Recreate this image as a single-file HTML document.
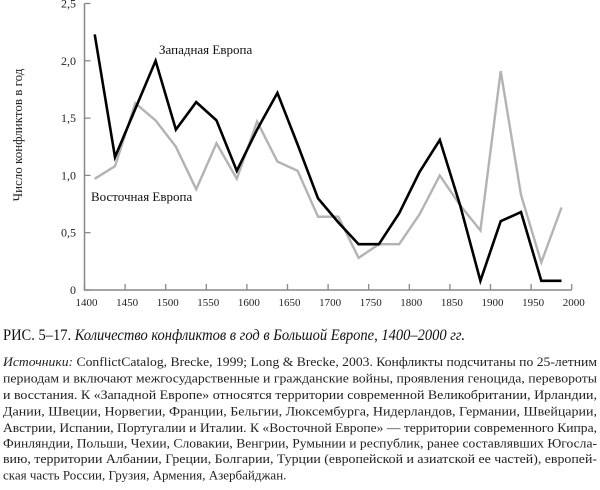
<!DOCTYPE html>
<html><head><meta charset="utf-8"><style>
html,body{margin:0;padding:0;background:#fff;}
svg{display:block;font-family:"Liberation Serif","DejaVu Serif",serif;}
</style></head><body>
<svg id="chart" width="600" height="490" viewBox="0 0 600 490">
<g id="plot"></g>
<text x="22" y="135" transform="rotate(-90 22 135)" text-anchor="middle" font-size="13" fill="#222">Число конфликтов в год</text>
<text x="159" y="54" font-size="13" fill="#111">Западная Европа</text>
<text x="91" y="201" font-size="13" fill="#111">Восточная Европа</text>
<g>
<text x="3" y="340" font-size="16" fill="#111" textLength="462" lengthAdjust="spacingAndGlyphs"><tspan>РИС. 5–17.</tspan> <tspan font-style="italic">Количество конфликтов в год в Большой Европе, 1400–2000 гг.</tspan></text>
</g>
<g font-size="13" fill="#222">
<text x="3" y="366" textLength="594" lengthAdjust="spacingAndGlyphs"><tspan font-style="italic">Источники:</tspan> ConflictCatalog, Brecke, 1999; Long &amp; Brecke, 2003. Конфликты подсчитаны по 25-летним</text>
<text x="3" y="382.5" textLength="594" lengthAdjust="spacingAndGlyphs">периодам и включают межгосударственные и гражданские войны, проявления геноцида, перевороты</text>
<text x="3" y="399" textLength="594" lengthAdjust="spacingAndGlyphs">и восстания. К «Западной Европе» относятся территории современной Великобритании, Ирландии,</text>
<text x="3" y="415.5" textLength="594" lengthAdjust="spacingAndGlyphs">Дании, Швеции, Норвегии, Франции, Бельгии, Люксембурга, Нидерландов, Германии, Швейцарии,</text>
<text x="3" y="432" textLength="594" lengthAdjust="spacingAndGlyphs">Австрии, Испании, Португалии и Италии. К «Восточной Европе» — территории современного Кипра,</text>
<text x="3" y="447.5" textLength="594" lengthAdjust="spacingAndGlyphs">Финляндии, Польши, Чехии, Словакии, Венгрии, Румынии и республик, ранее составлявших Югосла-</text>
<text x="3" y="463" textLength="594" lengthAdjust="spacingAndGlyphs">вию, территории Албании, Греции, Болгарии, Турции (европейской и азиатской ее частей), европей-</text>
<text x="3" y="479.5">ская часть России, Грузия, Армения, Азербайджан.</text>
</g>
</svg>
<script>
const periods = [1412.5,1437.5,1462.5,1487.5,1512.5,1537.5,1562.5,1587.5,1612.5,1637.5,1662.5,1687.5,1712.5,1737.5,1762.5,1787.5,1812.5,1837.5,1862.5,1887.5,1912.5,1937.5,1962.5,1987.5];
const westValues = [2.23,1.16,1.58,2.0,1.40,1.64,1.48,1.04,1.40,1.72,1.27,0.80,0.59,0.40,0.40,0.67,1.03,1.31,0.74,0.08,0.60,0.68,0.08,0.08];
const eastValues = [0.97,1.08,1.63,1.48,1.25,0.88,1.28,0.97,1.47,1.12,1.04,0.64,0.64,0.28,0.40,0.40,0.66,1.00,0.74,0.52,1.91,0.83,0.24,0.72];
const xTicks = [1400,1450,1500,1550,1600,1650,1700,1750,1800,1850,1900,1950,2000];
const yTicks = [0,0.5,1.0,1.5,2.0,2.5];
const yTickLabels = ["0","0,5","1,0","1,5","2,0","2,5"];

const NS = "http://www.w3.org/2000/svg";
const X0 = 84.5, XK = 40.6/50, Y0 = 290, YK = 114.6;
function xs(v){ return X0 + (v-1400)*XK; }
function ys(v){ return Y0 - v*YK; }
const plot = document.getElementById('plot');
function mk(tag, attrs){ const e=document.createElementNS(NS,tag); for(const k in attrs) e.setAttribute(k,attrs[k]); plot.appendChild(e); return e; }

const ax = mk('path',{d:`M${X0} ${ys(2.5)} V${Y0} H${xs(2000)}`,fill:'none',stroke:'#888','stroke-width':1.5});


xTicks.forEach(t=>{
  const l = mk('line',{x1:xs(t),x2:xs(t),y1:Y0,y2:Y0-6,stroke:'#888','stroke-width':1.3});
  
  
  const tx = mk('text',{x:xs(t)+2,y:Y0+16,'text-anchor':'middle','font-size':11,fill:'#222'});
  tx.textContent = t;
  
  
});
yTicks.forEach((t,i)=>{
  const l = mk('line',{x1:X0,x2:X0+6,y1:ys(t),y2:ys(t),stroke:'#888','stroke-width':1.3});
  
  
  const tx = mk('text',{x:76,y:ys(t)+4,'text-anchor':'end','font-size':12,fill:'#222'});
  tx.textContent = yTickLabels[i];
  
  
});
function line(vals,color,w,name){
  const d = vals.map((v,i)=>(i?'L':'M')+xs(periods[i]).toFixed(1)+' '+ys(v).toFixed(1)).join(' ');
  const p = mk('path',{d:d,fill:'none',stroke:color,'stroke-width':w,'stroke-linejoin':'miter'});
  
  
}
line(eastValues,'#b3b3b3',2.4,'east-europe-line');
line(westValues,'#000',2.6,'west-europe-line');
</script>
</body></html>
